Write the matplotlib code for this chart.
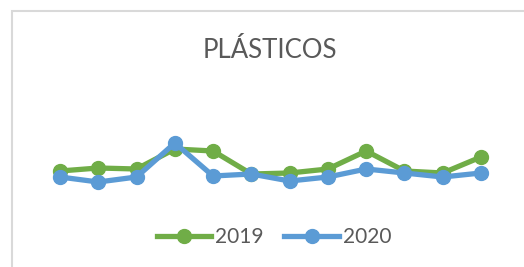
import matplotlib.pyplot as plt
from matplotlib.patches import Rectangle

# Meses (eje oculto en el original)
meses = ['Ene', 'Feb', 'Mar', 'Abr', 'May', 'Jun', 'Jul', 'Ago', 'Sep', 'Oct', 'Nov', 'Dic']
# Valores estimados desde la imagen
v2019 = [29, 32, 31, 51, 49, 26, 27, 31, 49, 29, 27, 43]
v2020 = [23, 18, 23, 57, 24, 26, 19, 23, 31, 27, 23, 27]

verde = '#70AD47'
azul = '#5B9BD5'
gris = '#595959'

plt.rcParams['font.family'] = ['Lato', 'DejaVu Sans']

fig = plt.figure(figsize=(5.24, 2.67), dpi=100)
W, H = 524, 267

# Marco del gráfico
fig.patches.append(Rectangle((11.5 / W, -0.1), 1.0, (H - 11) / H + 0.1,
                             transform=fig.transFigure, fill=False,
                             edgecolor='#d9d9d9', linewidth=1.5))

# Eje: x de 60 a 481 px, y de 80 a 210 px
ax = fig.add_axes([60 / W, (H - 210) / H, (481 - 60) / W, 130 / H])
x = range(len(meses))
ax.plot(x, v2019, color=verde, linewidth=3.8, marker='o', markersize=10, label='2019',
        solid_joinstyle='round', clip_on=False)
ax.plot(x, v2020, color=azul, linewidth=3.8, marker='o', markersize=10, label='2020',
        solid_joinstyle='round', clip_on=False)
ax.set_xlim(0, len(meses) - 1)
ax.set_ylim(-10, 120)
ax.axis('off')

fig.text(270 / W, 1 - 50 / H, 'PLÁSTICOS', ha='center', va='center',
         fontsize=18.5, color=gris)

leg = fig.legend(loc='center', bbox_to_anchor=(274 / W, 1 - 237 / H), ncol=2,
                 frameon=False, fontsize=15, handlelength=2.6, handletextpad=0.2,
                 columnspacing=1.0, borderaxespad=0)
for t in leg.get_texts():
    t.set_color(gris)

fig.savefig('out.png', dpi=100, facecolor='white')
